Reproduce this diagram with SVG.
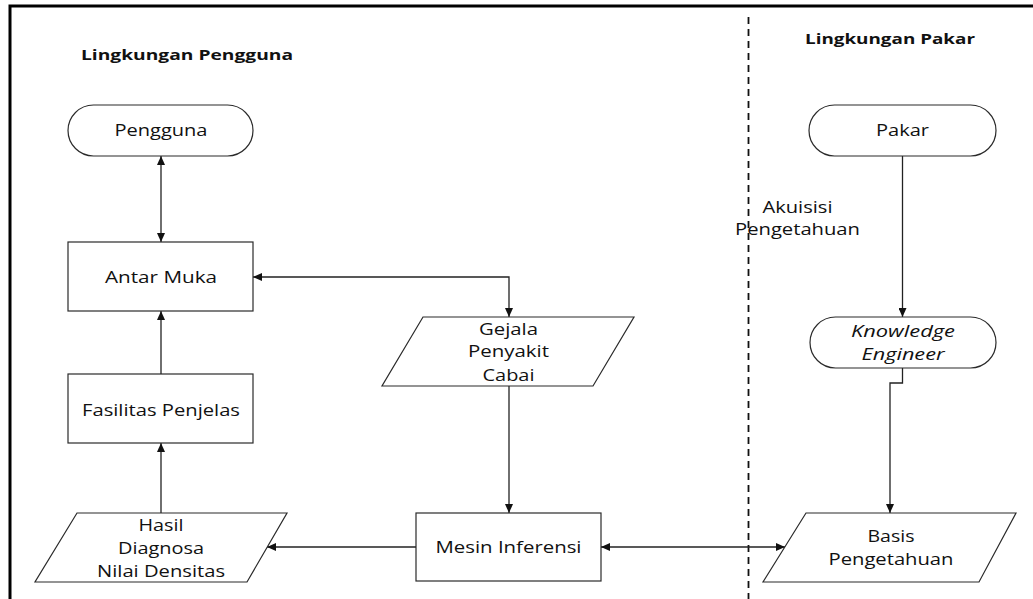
<svg xmlns="http://www.w3.org/2000/svg" width="1033" height="599" viewBox="0 0 1033 599">
<style>
.shape{fill:#fff;stroke:#2a2a2a;stroke-width:1.2}
.t{font-family:"Open Sans","Liberation Sans",sans-serif;font-size:17px;fill:#111;text-anchor:middle}
.it{font-style:italic}
.b{font-family:"Open Sans","Liberation Sans",sans-serif;font-size:15px;font-weight:bold;fill:#111}
.c{fill:none;stroke:#222;stroke-width:1.3}
</style>
<defs>
<marker id="ah" markerUnits="userSpaceOnUse" markerWidth="10" markerHeight="8" refX="9" refY="4" orient="auto-start-reverse">
<path d="M0,0 L9,4 L0,8 Z" fill="#111"/>
</marker>
</defs>
<rect width="1033" height="599" fill="#fff"/>
<g id="frame">
<path d="M10,599 V6 H1033" fill="none" stroke="#000" stroke-width="3"/>
<line x1="748.5" y1="17" x2="748.5" y2="599" stroke="#111" stroke-width="1.8" stroke-dasharray="7 5"/>
</g>
<g id="labels">
<text class="b" x="81" y="60" textLength="212" lengthAdjust="spacingAndGlyphs">Lingkungan Pengguna</text>
<text class="b" x="805" y="44" textLength="170" lengthAdjust="spacingAndGlyphs">Lingkungan Pakar</text>
<text class="t" x="797.5" y="213" textLength="70" lengthAdjust="spacingAndGlyphs">Akuisisi</text>
<text class="t" x="797.5" y="235" textLength="125" lengthAdjust="spacingAndGlyphs">Pengetahuan</text>
</g>
<g id="connectors">
<line class="c" x1="161" y1="156" x2="161" y2="242" marker-start="url(#ah)" marker-end="url(#ah)"/>
<line class="c" x1="161" y1="374" x2="161" y2="311" marker-end="url(#ah)"/>
<line class="c" x1="161" y1="513" x2="161" y2="443" marker-end="url(#ah)"/>
<path class="c" d="M253,277 H509 V317" marker-start="url(#ah)" marker-end="url(#ah)"/>
<line class="c" x1="509" y1="386" x2="509" y2="513" marker-end="url(#ah)"/>
<line class="c" x1="416" y1="547" x2="267" y2="547" marker-end="url(#ah)"/>
<line class="c" x1="601" y1="547" x2="785" y2="547" marker-start="url(#ah)" marker-end="url(#ah)"/>
<line class="c" x1="902.5" y1="156" x2="902.5" y2="317" marker-end="url(#ah)"/>
<path class="c" d="M902.5,368 V383 H890 V513" marker-end="url(#ah)"/>
</g>
<g id="pengguna">
<rect class="shape" x="68" y="105" width="185" height="51" rx="25.5"/>
<text class="t" x="161" y="136" textLength="93" lengthAdjust="spacingAndGlyphs">Pengguna</text>
</g>
<g id="antar-muka">
<rect class="shape" x="68" y="242" width="185" height="69"/>
<text class="t" x="161" y="283" textLength="112" lengthAdjust="spacingAndGlyphs">Antar Muka</text>
</g>
<g id="fasilitas-penjelas">
<rect class="shape" x="68" y="374" width="185" height="69"/>
<text class="t" x="161" y="416" textLength="158" lengthAdjust="spacingAndGlyphs">Fasilitas Penjelas</text>
</g>
<g id="hasil-diagnosa">
<polygon class="shape" points="77,513 287,513 247,582 35,582"/>
<text class="t" x="161" y="531" textLength="45" lengthAdjust="spacingAndGlyphs">Hasil</text>
<text class="t" x="161" y="554" textLength="86" lengthAdjust="spacingAndGlyphs">Diagnosa</text>
<text class="t" x="161" y="577" textLength="128" lengthAdjust="spacingAndGlyphs">Nilai Densitas</text>
</g>
<g id="gejala">
<polygon class="shape" points="423,317 634,317 593,386 382,386"/>
<text class="t" x="508.5" y="335" textLength="59" lengthAdjust="spacingAndGlyphs">Gejala</text>
<text class="t" x="508.5" y="357" textLength="81" lengthAdjust="spacingAndGlyphs">Penyakit</text>
<text class="t" x="508.5" y="381" textLength="52" lengthAdjust="spacingAndGlyphs">Cabai</text>
</g>
<g id="mesin-inferensi">
<rect class="shape" x="416" y="513" width="185" height="68"/>
<text class="t" x="508.5" y="553" textLength="146" lengthAdjust="spacingAndGlyphs">Mesin Inferensi</text>
</g>
<g id="pakar">
<rect class="shape" x="809" y="105" width="187" height="51" rx="25.5"/>
<text class="t" x="902.5" y="136" textLength="53" lengthAdjust="spacingAndGlyphs">Pakar</text>
</g>
<g id="knowledge-engineer">
<rect class="shape" x="810" y="317" width="186" height="51" rx="25.5"/>
<text class="t it" x="903" y="337" textLength="104" lengthAdjust="spacingAndGlyphs">Knowledge</text>
<text class="t it" x="903" y="360" textLength="83" lengthAdjust="spacingAndGlyphs">Engineer</text>
</g>
<g id="basis-pengetahuan">
<polygon class="shape" points="806,513 1016,513 979,582 763,582"/>
<text class="t" x="891" y="542" textLength="47" lengthAdjust="spacingAndGlyphs">Basis</text>
<text class="t" x="891" y="565" textLength="125" lengthAdjust="spacingAndGlyphs">Pengetahuan</text>
</g>
</svg>
